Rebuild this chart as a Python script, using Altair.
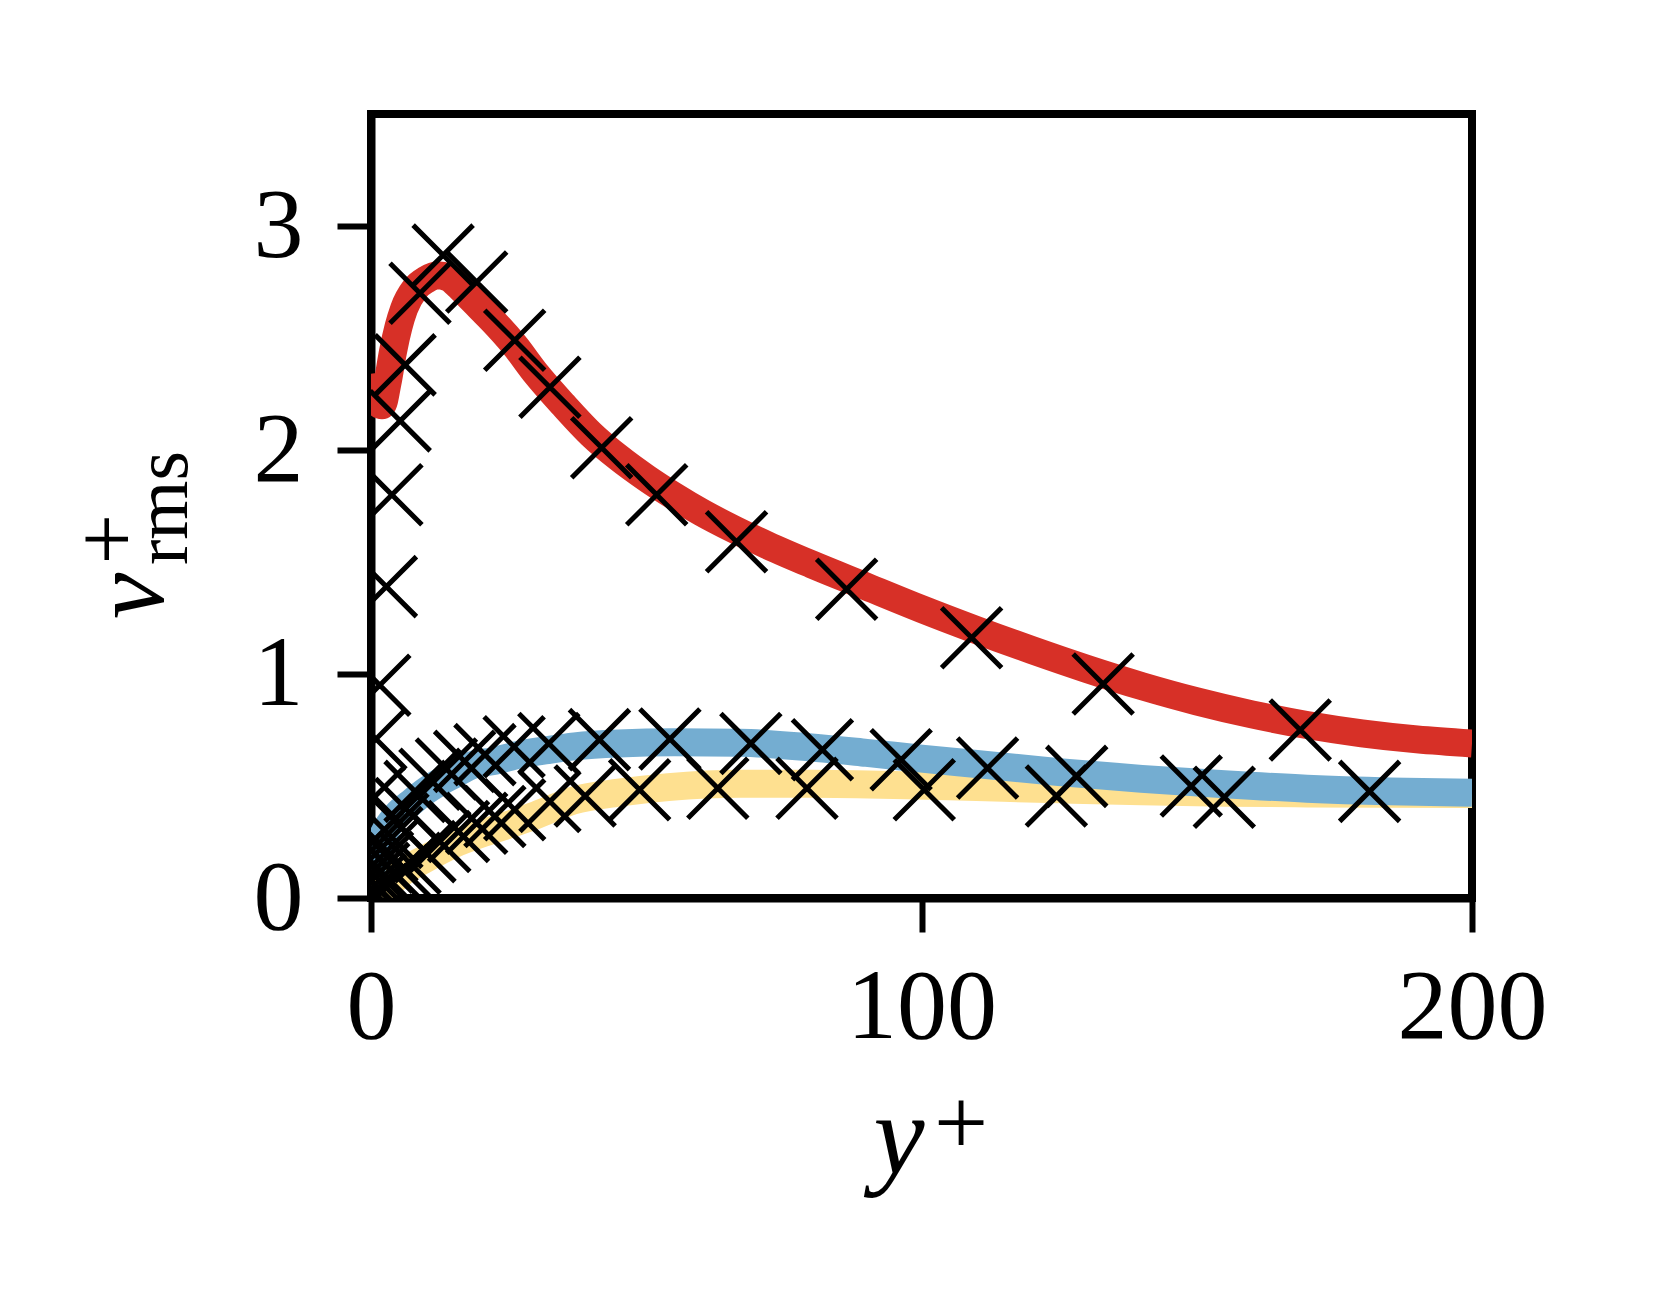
import altair as alt
import pandas as pd

# ---- thick model curves ----
red_yp = [0, 1, 2, 3, 4, 5, 6, 8, 10, 12, 14, 16, 18, 20, 22, 26, 30, 35, 40, 45, 50, 55, 60, 66, 72, 80,
          90, 100, 110, 120, 130, 140, 150, 160, 170, 180, 190, 200]
red_v = [2.34, 2.22, 2.20, 2.30, 2.44, 2.55, 2.63, 2.72, 2.76, 2.78, 2.77, 2.73, 2.68, 2.63, 2.58, 2.47, 2.34, 2.20,
         2.07, 1.965, 1.875, 1.795, 1.722, 1.645, 1.575, 1.49, 1.39, 1.29, 1.196, 1.107, 1.023, 0.946, 0.878, 0.82,
         0.772, 0.735, 0.708, 0.69]

blue_yp = [0, 1, 2, 3.5, 5, 7, 9.5, 12, 15, 18.6, 22, 27, 32, 37, 45, 55, 67, 80, 90, 100, 110, 125, 140, 155,
           170, 185, 200]
blue_v = [0.12, 0.20, 0.27, 0.335, 0.38, 0.42, 0.47, 0.51, 0.55, 0.595, 0.61, 0.64, 0.66, 0.677, 0.69, 0.695,
          0.693, 0.672, 0.648, 0.622, 0.598, 0.562, 0.532, 0.508, 0.488, 0.476, 0.47]

yel_yp = [0, 3.5, 6, 9.5, 15, 21.6, 25.8, 30, 36.7, 45, 54, 67, 80, 95, 110, 125, 140, 155, 170, 185, 200]
yel_v = [0.0, 0.067, 0.12, 0.17, 0.24, 0.30, 0.334, 0.37, 0.435, 0.47, 0.495, 0.51, 0.51, 0.505, 0.495, 0.485,
         0.476, 0.47, 0.467, 0.465, 0.464]

# ---- reference data (x markers) ----
ref_u_yp = [0.3, 0.6, 0.9, 1.6, 2.8, 3.8, 5.3, 6.2, 8.9, 13.1, 19.2, 26.1, 32.5, 41.9, 51.9, 66.4, 86.4, 109.1,
            133.0, 168.8]
ref_u_v = [0.25, 0.45, 0.71, 0.95, 1.39, 1.80, 2.13, 2.38, 2.70, 2.87, 2.75, 2.49, 2.28, 2.01, 1.80, 1.59, 1.378,
           1.162, 0.955, 0.75]

ref_w_yp = [0.3, 0.8, 1.4, 2.1, 2.9, 3.8, 4.9, 6.3, 8.0, 10.7, 13.7, 17.0, 20.7, 26.0, 32.3, 41.5, 54.3, 69.0,
            82.0, 96.3, 112.0, 128.2, 149.0, 181.4]
ref_w_v = [0.02, 0.06, 0.11, 0.16, 0.21, 0.27, 0.33, 0.40, 0.476, 0.53, 0.576, 0.61, 0.64, 0.675, 0.69, 0.707,
           0.71, 0.69, 0.662, 0.617, 0.58, 0.543, 0.50, 0.476]

ref_v_yp = [0.4, 1.0, 1.7, 2.6, 3.6, 4.8, 5.9, 7.1, 9.8, 12.5, 15.9, 19.2, 22.5, 26.1, 32.5, 38.9, 48.8, 63.0,
            79.2, 100.5, 124.5, 155.0]
ref_v_v = [0.005, 0.015, 0.03, 0.05, 0.075, 0.10, 0.125, 0.155, 0.207, 0.252, 0.297, 0.334, 0.364, 0.394, 0.431,
           0.455, 0.483, 0.49, 0.49, 0.483, 0.455, 0.45]

x_ticks = [0, 100, 200]
y_ticks = [0, 1, 2, 3]

FONT = "Liberation Serif"
RED, BLUE, YEL = "#d73027", "#74add1", "#fee090"

xs = alt.Scale(domain=[0, 200], nice=False, zero=False)
ys = alt.Scale(domain=[0, 3.5], nice=False, zero=False)
xax = alt.Axis(values=x_ticks, title="", grid=False, format="d", labelFlush=False)
yax = alt.Axis(values=y_ticks, title="", grid=False, format="d", labelFlush=False)


def curve(xv, yv, color):
    df = pd.DataFrame({"yp": xv, "val": yv})
    return alt.Chart(df).mark_line(color=color, strokeWidth=28, strokeCap="butt", strokeJoin="round",
                                   interpolate="monotone", clip=True).encode(
        x=alt.X("yp:Q", scale=xs, axis=xax), y=alt.Y("val:Q", scale=ys, axis=yax))


def markers(xv, yv):
    df = pd.DataFrame({"yp": xv, "val": yv})
    return alt.Chart(df).mark_point(shape="M-1,-1L1,1M-1,1L1,-1", filled=False, stroke="black",
                                    strokeWidth=5, size=3600, opacity=1, clip=True).encode(
        x=alt.X("yp:Q", scale=xs, axis=xax), y=alt.Y("val:Q", scale=ys, axis=yax))


def txt(s, x, y, size, style="normal", angle=0):
    return alt.Chart(pd.DataFrame({"t": [s]})).mark_text(
        text=s, font=FONT, fontSize=size, fontStyle=style, angle=angle, align="center",
        baseline="alphabetic", color="black").encode(x=alt.value(x), y=alt.value(y))


chart = alt.layer(
    curve(red_yp, red_v, RED),
    curve(yel_yp, yel_v, YEL),
    curve(blue_yp, blue_v, BLUE),
    markers(ref_u_yp, ref_u_v),
    markers(ref_w_yp, ref_w_v),
    markers(ref_v_yp, ref_v_v),
    txt("v", -208, 482, 104, "italic", 270),
    txt("+", -234, 425, 90, "normal", 270),
    txt("rms", -184, 394, 76, "normal", 270),
    txt("y", 528, 1060, 115, "italic"),
    txt("+", 590, 1040, 96, "normal"),
).properties(
    width=1101, height=784,
    autosize=alt.AutoSizeParams(type="none"),
    padding={"left": 363, "top": 106, "right": 180, "bottom": 390},
).configure_view(
    stroke="black", strokeWidth=8
).configure_axis(
    domainColor="black", domainWidth=8, tickColor="black", tickWidth=6, tickSize=34,
    labelFont=FONT, labelFontSize=100, labelColor="black",
).configure_axisX(
    labelPadding=26
).configure_axisY(
    labelPadding=34
)

chart.save("out.html", embed_options={"renderer": "svg", "actions": False})
